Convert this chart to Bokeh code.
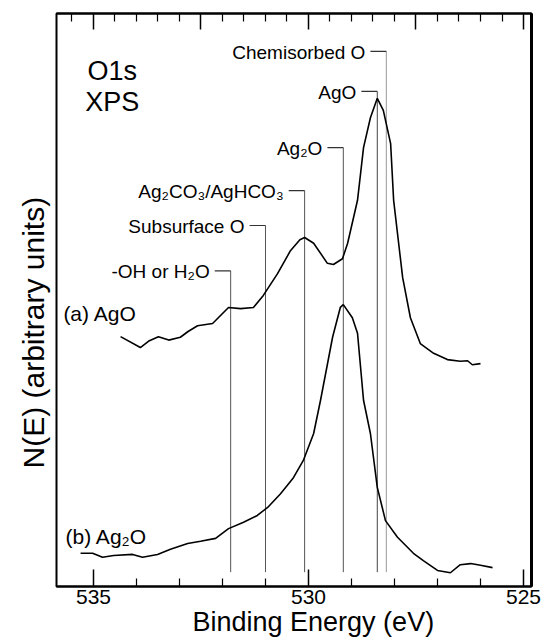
import math
from bokeh.plotting import figure
from bokeh.models import Range1d, LinearAxis, FixedTicker, Label, Title
from bokeh.core.properties import value
from bokeh.embed import file_html
from bokeh.resources import INLINE

# ---------------- data ----------------
ago_energy = [534.37, 533.91, 533.70, 533.49, 533.25, 532.98, 532.80, 532.58, 532.23,
              531.86, 531.58, 531.28, 531.05, 530.72, 530.42, 530.20, 530.09, 529.88,
              529.56, 529.42, 529.21, 529.09, 528.86, 528.72, 528.56, 528.40, 528.26,
              528.09, 528.02, 527.81, 527.63, 527.40, 527.09, 526.77, 526.47, 526.30,
              526.19, 526.00]
ago_counts = [43.6, 41.7, 42.9, 43.6, 43.0, 43.5, 44.5, 45.5, 45.9,
              48.7, 48.5, 48.7, 50.8, 54.6, 58.6, 60.5, 60.9, 59.9,
              56.4, 56.2, 57.2, 59.9, 67.4, 76.6, 81.8, 85.2, 83.1,
              77.3, 67.4, 53.9, 46.9, 42.4, 40.7, 39.6, 39.3, 39.4,
              38.7, 38.9]

ag2o_energy = [535.30, 535.02, 534.79, 534.53, 534.09, 533.86, 533.51, 533.21, 532.81,
               532.51, 532.16, 531.86, 531.51, 531.19, 530.95, 530.65, 530.35, 530.12,
               529.88, 529.72, 529.44, 529.26, 529.19, 528.98, 528.86, 528.72, 528.56,
               528.40, 528.21, 527.93, 527.56, 527.33, 527.00, 526.70, 526.47, 526.23,
               526.00, 525.72]
ag2o_counts = [5.8, 5.8, 5.1, 5.4, 5.6, 5.1, 5.6, 6.5, 7.5,
               7.9, 8.4, 10.1, 11.2, 12.4, 13.8, 16.2, 19.0, 22.0,
               26.7, 32.5, 43.5, 48.7, 49.2, 46.9, 44.2, 32.5, 26.7,
               17.3, 11.5, 8.6, 5.8, 4.5, 2.8, 2.4, 3.8, 4.0,
               3.7, 3.3]

ref_names = ["-OH or H\u2082O", "Subsurface O", "Ag\u2082CO\u2083/AgHCO\u2083",
             "Ag\u2082O", "AgO", "Chemisorbed O"]
ref_energy = [531.81, 531.00, 530.09, 529.19, 528.40, 528.19]
ref_top = [55.1, 63.0, 69.1, 76.6, 86.4, 93.4]
ref_bottom = [2.5] * len(ref_energy)

bottom_ticks = [535, 530, 525]
bottom_minor = [534, 533, 532, 531, 529, 528, 527, 526]
top_ticks = [535, 532.5, 530, 527.5, 525]
top_minor = [535.5, 534.5, 534, 533.5, 533, 532, 531.5, 531, 530.5, 529.5, 529,
             528.5, 528, 527, 526.5, 526, 525.5]

x_title = "Binding Energy (eV)"
y_title = "N(E) (arbitrary units)"

FONT = "Liberation Sans"

# ---------------- figure ----------------
p = figure(width=541, height=644,
           x_range=Range1d(535.860, 524.814), y_range=Range1d(0, 100),
           x_axis_location=None, y_axis_location=None,
           output_backend="svg", toolbar_location=None,
           min_border_left=56, min_border_right=10,
           min_border_top=13, min_border_bottom=58)
p.grid.visible = False
p.outline_line_color = "black"
p.outline_line_width = 2
p.background_fill_color = "white"
p.border_fill_color = "white"

xb = LinearAxis(ticker=FixedTicker(ticks=bottom_ticks, minor_ticks=bottom_minor))
xb.major_tick_in = 17
xb.major_tick_out = 0
xb.minor_tick_in = 8
xb.minor_tick_out = 0
xb.axis_line_width = 2
xb.major_tick_line_width = 1.5
xb.minor_tick_line_width = 1.2
xb.major_label_text_font = FONT
xb.major_label_text_font_size = "21px"
xb.major_label_text_color = "black"
xb.major_label_standoff = 3
p.add_layout(xb, "below")

xt = LinearAxis(ticker=FixedTicker(ticks=top_ticks, minor_ticks=top_minor))
xt.major_tick_in = 16
xt.major_tick_out = 0
xt.minor_tick_in = 8
xt.minor_tick_out = 0
xt.axis_line_width = 2
xt.major_tick_line_width = 1.5
xt.minor_tick_line_width = 1.2
xt.major_label_overrides = {t: "" for t in top_ticks}
xt.major_label_text_font_size = "1px"
xt.major_label_standoff = 0
p.add_layout(xt, "above")

yr = LinearAxis(ticker=FixedTicker(ticks=[]))
yr.axis_line_width = 3
yr.major_tick_in = 0
yr.major_tick_out = 0
yr.minor_tick_in = 0
yr.minor_tick_out = 0
yr.major_label_standoff = 0
p.add_layout(yr, "right")

p.add_layout(Title(text=x_title, align="left", offset=136, vertical_align="top",
                   standoff=0, text_font=FONT, text_font_size="27px",
                   text_font_style="normal", text_color="black"), "below")
p.add_layout(Title(text=y_title, align="left", offset=118, vertical_align="bottom",
                   standoff=14, text_font=FONT, text_font_size="30px",
                   text_font_style="normal", text_color="black"), "left")

# reference lines
ref_colors = ["#555555", "#555555", "#555555", "#555555", "#444444", "#999999"]
p.segment(x0=ref_energy, y0=ref_bottom, x1=ref_energy, y1=ref_top,
          line_color=ref_colors, line_width=1)
p.segment(x0=[e + 0.37 for e in ref_energy], y0=ref_top, x1=ref_energy, y1=ref_top,
          line_color="#333333", line_width=1.2)
p.text(x=ref_energy, y=ref_top, text=ref_names, x_offset=-21, y_offset=1,
       text_align="right", text_baseline="middle",
       text_font=value(FONT), text_font_size="19px", text_color="black")

# spectra
p.line(ago_energy, ago_counts, line_color="black", line_width=1.6)
p.line(ag2o_energy, ag2o_counts, line_color="black", line_width=1.6)

# labels
p.add_layout(Label(x=535.14, y=90.05, text="O1s", text_font=FONT, text_font_size="27px",
                   text_align="left", text_baseline="alphabetic", text_color="black"))
p.add_layout(Label(x=535.19, y=84.5, text="XPS", text_font=FONT, text_font_size="27px",
                   text_align="left", text_baseline="alphabetic", text_color="black"))
p.add_layout(Label(x=535.70, y=47.6, text="(a) AgO", text_font=FONT, text_font_size="21px",
                   text_align="left", text_baseline="alphabetic", text_color="black"))
p.add_layout(Label(x=535.65, y=8.7, text="(b) Ag\u2082O", text_font=FONT, text_font_size="21px",
                   text_align="left", text_baseline="alphabetic", text_color="black"))

open("out.html", "w").write(file_html(p, INLINE))
